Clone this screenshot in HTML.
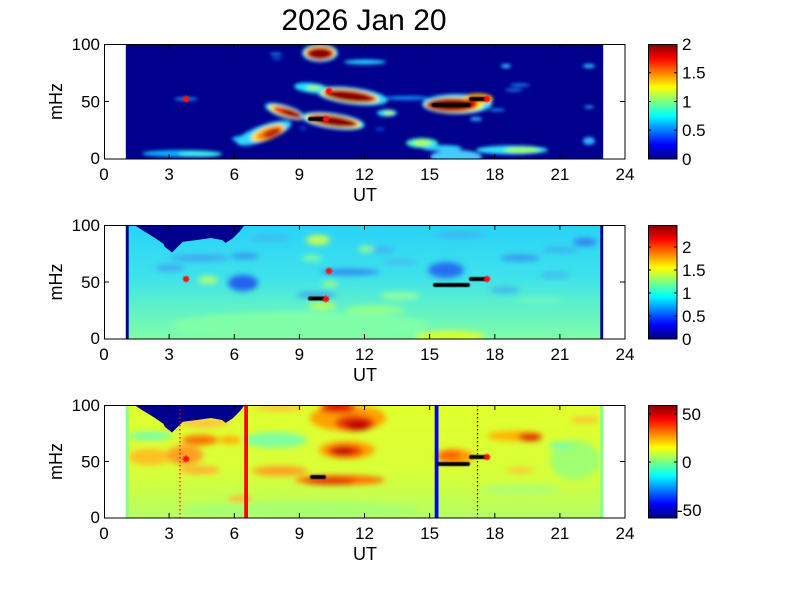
<!DOCTYPE html>
<html><head><meta charset="utf-8"><style>
html,body{margin:0;padding:0;background:#fff;}
svg{display:block;}
text{font-family:"Liberation Sans",Arial,sans-serif;fill:#000;}
</style></head><body>
<svg width="801" height="600" viewBox="0 0 801 600" xmlns="http://www.w3.org/2000/svg">
<defs>
<filter id="b2" x="-20%" y="-20%" width="140%" height="140%"><feGaussianBlur stdDeviation="1.8"/></filter>
<filter id="b3" x="-20%" y="-50%" width="140%" height="200%"><feGaussianBlur stdDeviation="3"/></filter>
<filter id="b1" x="-20%" y="-50%" width="140%" height="200%"><feGaussianBlur stdDeviation="0.6"/></filter>
<clipPath id="c1"><rect x="125.7" y="44" width="477.6" height="115"/></clipPath>
<clipPath id="c2"><rect x="125.7" y="225" width="477.6" height="114"/></clipPath>
<clipPath id="c3"><rect x="125.7" y="405" width="477.6" height="113"/></clipPath>
<linearGradient id="jet" x1="0" y1="1" x2="0" y2="0">
<stop offset="0" stop-color="#000080"/><stop offset="0.125" stop-color="#0000ff"/>
<stop offset="0.375" stop-color="#00ffff"/><stop offset="0.625" stop-color="#ffff00"/>
<stop offset="0.875" stop-color="#ff0000"/><stop offset="1" stop-color="#800000"/>
</linearGradient>
<linearGradient id="g2" x1="0" y1="0" x2="0" y2="1">
<stop offset="0" stop-color="#2ad2f8"/><stop offset="0.45" stop-color="#3ee2ec"/>
<stop offset="0.7" stop-color="#5cf0cc"/><stop offset="1" stop-color="#80fca8"/>
</linearGradient>
<linearGradient id="g3" x1="0" y1="0" x2="0" y2="1">
<stop offset="0" stop-color="#e0ff2c"/><stop offset="0.6" stop-color="#d8ff38"/>
<stop offset="1" stop-color="#b4ff66"/>
</linearGradient>
</defs>

<text x="364" y="30" font-size="30" text-anchor="middle">2026 Jan 20</text>

<!-- ================= PANEL 1 ================= -->
<g clip-path="url(#c1)">
<rect x="125.7" y="44" width="477.6" height="115" fill="#00008c"/>
<g filter="url(#b2)">
<ellipse cx="276" cy="54" rx="6" ry="1.3" fill="#20a0ff"/>
<ellipse cx="277" cy="58.5" rx="5" ry="1" fill="#1070ff"/>
<ellipse cx="365" cy="62" rx="21" ry="2.5" fill="#20d0ff"/>
<ellipse cx="407" cy="98" rx="22" ry="2" fill="#1590ff"/>
<ellipse cx="186" cy="99" rx="12" ry="1.5" fill="#20a0ff"/>
<ellipse cx="506" cy="66" rx="5" ry="2" fill="#30c0ff"/>
<ellipse cx="520" cy="85" rx="10" ry="1.3" fill="#20a0ff"/>
<ellipse cx="514" cy="90" rx="9" ry="1.3" fill="#2090ff"/>
<ellipse cx="497" cy="110" rx="8" ry="1.3" fill="#20a0ff"/>
<ellipse cx="589" cy="66" rx="6" ry="2" fill="#30c0ff"/>
<ellipse cx="589" cy="107" rx="5" ry="1.3" fill="#30c0ff"/>
<ellipse cx="589" cy="141" rx="6" ry="4" fill="#30b0ff"/>
<ellipse cx="476" cy="119" rx="6" ry="2" fill="#30b0ff"/>
<ellipse cx="303" cy="128" rx="4" ry="1" fill="#1070ff"/>
<ellipse cx="380" cy="129" rx="5" ry="1" fill="#1070ff"/>
<ellipse cx="320" cy="53" rx="18" ry="9" fill="#30d8ff"/>
<ellipse cx="320" cy="53" rx="15.5" ry="7.5" fill="#ffe000"/>
<ellipse cx="320" cy="53.5" rx="13.5" ry="6.3" fill="#e00000"/>
<ellipse cx="320" cy="54" rx="11" ry="4.8" fill="#8a0000"/>
<ellipse cx="312" cy="88" rx="18" ry="5" fill="#20e0ff" transform="rotate(6 312 88)"/>
<ellipse cx="315" cy="88" rx="9" ry="2.3" fill="#a0ff60"/>
<ellipse cx="352" cy="96" rx="36" ry="8.5" fill="#30d8ff" transform="rotate(7 352 96)"/>
<ellipse cx="350" cy="96" rx="29" ry="6.8" fill="#ffff30" transform="rotate(7 350 96)"/>
<ellipse cx="350" cy="96" rx="26.5" ry="5.8" fill="#e00000" transform="rotate(7 350 96)"/>
<ellipse cx="349" cy="96.5" rx="23" ry="4.6" fill="#8a0000" transform="rotate(7 349 96.5)"/>
<ellipse cx="457" cy="104" rx="35" ry="10" fill="#30d8ff"/>
<ellipse cx="478" cy="99" rx="15" ry="5.5" fill="#ffd000"/>
<ellipse cx="454" cy="105" rx="29" ry="8" fill="#ffff20"/>
<ellipse cx="452" cy="105" rx="26" ry="7" fill="#e00000"/>
<ellipse cx="450" cy="105" rx="22" ry="5.5" fill="#8a0000"/>
<ellipse cx="478" cy="99" rx="10" ry="3.2" fill="#e02000"/>
<ellipse cx="285" cy="111.5" rx="21" ry="6.3" fill="#30d8ff" transform="rotate(17 285 111.5)"/>
<ellipse cx="286" cy="112" rx="18" ry="5" fill="#ffe020" transform="rotate(17 286 112)"/>
<ellipse cx="288" cy="112.5" rx="15" ry="4" fill="#e02000" transform="rotate(17 288 112.5)"/>
<ellipse cx="292" cy="113.5" rx="9" ry="2.8" fill="#8a0000" transform="rotate(17 292 113.5)"/>
<ellipse cx="333" cy="121" rx="32" ry="8" fill="#30d8ff" transform="rotate(8 333 121)"/>
<ellipse cx="333" cy="121" rx="28" ry="6.5" fill="#ffff20" transform="rotate(8 333 121)"/>
<ellipse cx="333" cy="121" rx="25" ry="5.5" fill="#e00000" transform="rotate(8 333 121)"/>
<ellipse cx="335" cy="121.5" rx="20" ry="4.4" fill="#8a0000" transform="rotate(8 335 121.5)"/>
<ellipse cx="245" cy="139" rx="13" ry="3.5" fill="#20c0ff"/>
<ellipse cx="264" cy="133" rx="29" ry="8" fill="#30d8ff" transform="rotate(-20 264 133)"/>
<ellipse cx="268" cy="133" rx="18" ry="6.5" fill="#ffe020" transform="rotate(-20 268 133)"/>
<ellipse cx="270" cy="133" rx="14" ry="5.3" fill="#ff8000" transform="rotate(-20 270 133)"/>
<ellipse cx="272" cy="133" rx="9" ry="3.8" fill="#c02000" transform="rotate(-20 272 133)"/>
<ellipse cx="387" cy="113" rx="10" ry="3.5" fill="#30e0ff"/>
<ellipse cx="389" cy="113" rx="5" ry="2" fill="#c0ff40"/>
<ellipse cx="422" cy="143" rx="16" ry="5" fill="#40f0d0"/>
<ellipse cx="422" cy="143" rx="9" ry="3" fill="#b0ff50"/>
<ellipse cx="180" cy="153.5" rx="38" ry="3.5" fill="#10b0ff"/>
<ellipse cx="200" cy="154" rx="22" ry="3" fill="#40f0f0"/>
<ellipse cx="456" cy="157" rx="26" ry="7" fill="#48c8ff"/>
<ellipse cx="442" cy="148" rx="20" ry="3" fill="#30d0ff"/>
<ellipse cx="512" cy="150" rx="36" ry="4.5" fill="#30e0ff"/>
<ellipse cx="522" cy="150" rx="18" ry="3" fill="#a0ff60"/>
</g>
<g fill="#000" filter="url(#b1)">
<rect x="308" y="117" width="18" height="4" rx="2"/>
<rect x="432" y="103" width="39" height="4" rx="2"/>
<rect x="469" y="97" width="18" height="4" rx="2"/>
</g>
<g stroke="#ff1010" stroke-width="1.4">
<path d="M182.5 99h7M186 95.5v7M183.5 96.5l5 5M183.5 101.5l5-5"/>
<path d="M325.5 91h7M329 87.5v7M326.5 88.5l5 5M326.5 93.5l5-5"/>
<path d="M322.5 119h7M326 115.5v7M323.5 116.5l5 5M323.5 121.5l5-5"/>
<path d="M483.5 99h7M487 95.5v7M484.5 96.5l5 5M484.5 101.5l5-5"/>
</g>
</g>

<!-- ================= PANEL 2 ================= -->
<g clip-path="url(#c2)">
<rect x="125.7" y="225" width="477.6" height="114" fill="url(#g2)"/>
<g filter="url(#b3)">
<ellipse cx="300" cy="326" rx="130" ry="14" fill="#80ffa8"/>
<ellipse cx="243" cy="283" rx="15" ry="8" fill="#2060f0"/>
<ellipse cx="446" cy="270" rx="18" ry="8" fill="#2870f0"/>
<ellipse cx="350" cy="272" rx="30" ry="3" fill="#3080f0"/>
<ellipse cx="200" cy="258" rx="30" ry="3" fill="#40a0f0"/>
<ellipse cx="245" cy="256" rx="14" ry="3" fill="#3a90f0"/>
<ellipse cx="520" cy="258" rx="20" ry="3" fill="#3a90f0"/>
<ellipse cx="560" cy="250" rx="18" ry="2.5" fill="#40a8f0"/>
<ellipse cx="585" cy="242" rx="12" ry="4" fill="#3080f0"/>
<ellipse cx="316" cy="295" rx="20" ry="3" fill="#40a0f0"/>
<ellipse cx="505" cy="290" rx="15" ry="3" fill="#40b0f0"/>
<ellipse cx="170" cy="268" rx="15" ry="3" fill="#40a0f0"/>
<ellipse cx="380" cy="250" rx="15" ry="3" fill="#40b0f0"/>
<ellipse cx="460" cy="235" rx="25" ry="3" fill="#40b0f0"/>
<ellipse cx="555" cy="275" rx="15" ry="3" fill="#40b8f0"/>
<ellipse cx="270" cy="238" rx="20" ry="3" fill="#40b8f0"/>
<ellipse cx="400" cy="262" rx="18" ry="2.5" fill="#48b8f0"/>
<ellipse cx="318" cy="240" rx="12" ry="5" fill="#c8ff50"/>
<ellipse cx="366" cy="249" rx="8" ry="3" fill="#a0ff80"/>
<ellipse cx="312" cy="258" rx="10" ry="3" fill="#80ffa0"/>
<ellipse cx="322" cy="306" rx="14" ry="3.5" fill="#c0ff50"/>
<ellipse cx="330" cy="284" rx="8" ry="3" fill="#a0ff80"/>
<ellipse cx="450" cy="337" rx="35" ry="6" fill="#d8ff30"/>
<ellipse cx="375" cy="310" rx="30" ry="5" fill="#90ff90"/>
<ellipse cx="208" cy="280" rx="10" ry="4" fill="#b0ff70"/>
<ellipse cx="400" cy="296" rx="20" ry="4" fill="#90ffa0"/>
<ellipse cx="540" cy="300" rx="25" ry="3" fill="#70f8c0"/>
</g>
<path d="M136.4,224 L136.4,226.4 L143.6,231 L152.5,236.4 L163.2,243.6 L165,247 L172,252.5 L177.5,247 L182.9,241.8 L197,240 L211,238 L222,240 L225.7,242.9 L232.9,238.2 L240,231 L243.6,226.4 L244,224 Z" fill="#00008c"/>
<rect x="125.7" y="225" width="3" height="114" fill="#00008c"/>
<rect x="600.3" y="225" width="3" height="114" fill="#00008c"/>
<g fill="#000" filter="url(#b1)">
<rect x="308" y="296.5" width="18" height="4" rx="2"/>
<rect x="433" y="283" width="37" height="4" rx="2"/>
<rect x="469" y="277" width="18" height="4" rx="2"/>
</g>
<g stroke="#ff1010" stroke-width="1.4">
<path d="M182.5 279h7M186 275.5v7M183.5 276.5l5 5M183.5 281.5l5-5"/>
<path d="M325.5 271h7M329 267.5v7M326.5 268.5l5 5M326.5 273.5l5-5"/>
<path d="M322.5 299h7M326 295.5v7M323.5 296.5l5 5M323.5 301.5l5-5"/>
<path d="M483.5 279h7M487 275.5v7M484.5 276.5l5 5M484.5 281.5l5-5"/>
</g>
</g>

<!-- ================= PANEL 3 ================= -->
<g clip-path="url(#c3)">
<rect x="125.7" y="405" width="477.6" height="113" fill="url(#g3)"/>
<g filter="url(#b3)">
<ellipse cx="275" cy="440" rx="32" ry="8" fill="#80ffa0"/>
<ellipse cx="150" cy="436" rx="22" ry="4" fill="#70ffb0"/>
<ellipse cx="575" cy="460" rx="25" ry="20" fill="#a0ff70"/>
<ellipse cx="560" cy="445" rx="12" ry="3" fill="#70ffb0"/>
<ellipse cx="300" cy="510" rx="120" ry="8" fill="#a8ff70"/>
<ellipse cx="520" cy="490" rx="40" ry="5" fill="#b0ff70"/>
<ellipse cx="348" cy="418" rx="38" ry="13" fill="#ffa000"/>
<ellipse cx="338" cy="408" rx="18" ry="5" fill="#e00000"/>
<ellipse cx="355" cy="423" rx="20" ry="8" fill="#e83000"/>
<ellipse cx="358" cy="425" rx="12" ry="5" fill="#c00000"/>
<ellipse cx="280" cy="408" rx="25" ry="3" fill="#ffc040"/>
<ellipse cx="347" cy="450" rx="28" ry="9" fill="#ffa000"/>
<ellipse cx="345" cy="451" rx="18" ry="6" fill="#e83000"/>
<ellipse cx="343" cy="451" rx="10" ry="4" fill="#c00000"/>
<ellipse cx="280" cy="471" rx="28" ry="5" fill="#ffa020"/>
<ellipse cx="340" cy="480" rx="45" ry="5" fill="#ff7000"/>
<ellipse cx="330" cy="481" rx="25" ry="3.5" fill="#e03000"/>
<ellipse cx="515" cy="436" rx="28" ry="5" fill="#ffb000"/>
<ellipse cx="530" cy="437" rx="12" ry="4" fill="#e02000"/>
<ellipse cx="455" cy="457" rx="20" ry="8" fill="#ffa000"/>
<ellipse cx="450" cy="455" rx="12" ry="5" fill="#ff6000"/>
<ellipse cx="585" cy="420" rx="15" ry="3" fill="#ffc030"/>
<ellipse cx="520" cy="470" rx="14" ry="2.5" fill="#ffc030"/>
<ellipse cx="150" cy="457" rx="22" ry="8" fill="#ffc020"/>
<ellipse cx="185" cy="455" rx="18" ry="10" fill="#ffa020"/>
<ellipse cx="200" cy="440" rx="18" ry="5" fill="#ff7000"/>
<ellipse cx="230" cy="440" rx="12" ry="4" fill="#ffb000"/>
<ellipse cx="200" cy="470" rx="20" ry="4" fill="#ffb030"/>
<ellipse cx="205" cy="423" rx="25" ry="4" fill="#ffc040"/>
<ellipse cx="240" cy="499" rx="12" ry="3" fill="#ffb030"/>
</g>
<path d="M136.4,404 L136.4,406.4 L143.6,411 L152.5,416.4 L163.2,423.6 L165,427 L172,432.5 L177.5,427 L182.9,421.8 L197,420 L211,418 L222,420 L225.7,422.9 L232.9,418.2 L240,411 L243.6,406.4 L244,404 Z" fill="#00008c"/>
<rect x="125.7" y="405" width="3" height="113" fill="#88ff88"/>
<rect x="600.3" y="405" width="3" height="113" fill="#88ff88"/>
<rect x="244.2" y="405" width="3.8" height="113" fill="#ff0000"/>
<rect x="434.7" y="405" width="3.8" height="113" fill="#0000ff"/>
<line x1="180" y1="405" x2="180" y2="518" stroke="#ff0000" stroke-width="1.2" stroke-dasharray="1.5 2.5"/>
<line x1="477.5" y1="405" x2="477.5" y2="518" stroke="#000" stroke-width="1.2" stroke-dasharray="1.5 2.5"/>
<g fill="#000" filter="url(#b1)">
<rect x="310" y="475" width="16" height="4" rx="2"/>
<rect x="437" y="462" width="33" height="4" rx="2"/>
<rect x="469" y="455" width="18" height="4" rx="2"/>
</g>
<g stroke="#ff1010" stroke-width="1.4">
<path d="M182.5 459h7M186 455.5v7M183.5 456.5l5 5M183.5 461.5l5-5"/>
<path d="M483.5 457h7M487 453.5v7M484.5 454.5l5 5M484.5 459.5l5-5"/>
</g>
</g>

<!-- ================= AXES ================= -->
<g fill="none" stroke="#000" stroke-width="1">
<rect x="104.5" y="44.5" width="520.5" height="114.5"/>
<rect x="104.5" y="225.5" width="520.5" height="113.5"/>
<rect x="104.5" y="405.5" width="520.5" height="112.5"/>
<path d="M169.1 159v-5M234.3 159v-5M299.4 159v-5M364.5 159v-5M429.6 159v-5M494.8 159v-5M559.9 159v-5
M169.1 44v5M234.3 44v5M299.4 44v5M364.5 44v5M429.6 44v5M494.8 44v5M559.9 44v5
M104 101.5h5M625 101.5h-5"/>
<path d="M169.1 339v-5M234.3 339v-5M299.4 339v-5M364.5 339v-5M429.6 339v-5M494.8 339v-5M559.9 339v-5
M169.1 225v5M234.3 225v5M299.4 225v5M364.5 225v5M429.6 225v5M494.8 225v5M559.9 225v5
M104 282h5M625 282h-5"/>
<path d="M169.1 518v-5M234.3 518v-5M299.4 518v-5M364.5 518v-5M429.6 518v-5M494.8 518v-5M559.9 518v-5
M169.1 405v5M234.3 405v5M299.4 405v5M364.5 405v5M429.6 405v5M494.8 405v5M559.9 405v5
M104 461.5h5M625 461.5h-5"/>
</g>

<rect x="648" y="44" width="29" height="115" fill="url(#jet)"/>
<rect x="648" y="225" width="29" height="114" fill="url(#jet)"/>
<rect x="648" y="405" width="29" height="113" fill="url(#jet)"/>
<g fill="none" stroke="#000" stroke-width="1">
<rect x="648.5" y="44.5" width="28.5" height="114.5"/>
<rect x="648.5" y="225.5" width="28.5" height="113.5"/>
<rect x="648.5" y="405.5" width="28.5" height="112.5"/>
<path d="M648 72.75h3M648 101.5h3M648 130.25h3M677 72.75h-3M677 101.5h-3M677 130.25h-3"/>
<path d="M648 247h3M648 270h3M648 293h3M648 316h3M677 247h-3M677 270h-3M677 293h-3M677 316h-3"/>
<path d="M648 414h3M648 462h3M648 510h3M677 414h-3M677 462h-3M677 510h-3"/>
</g>

<g font-size="17">
<g text-anchor="end">
<text x="100" y="50">100</text><text x="100" y="107.5">50</text><text x="100" y="164">0</text>
<text x="100" y="231">100</text><text x="100" y="288">50</text><text x="100" y="344">0</text>
<text x="100" y="411">100</text><text x="100" y="467.5">50</text><text x="100" y="523">0</text>
</g>
<g text-anchor="middle">
<text x="104" y="180">0</text><text x="169.1" y="180">3</text><text x="234.3" y="180">6</text><text x="299.4" y="180">9</text><text x="364.5" y="180">12</text><text x="429.6" y="180">15</text><text x="494.8" y="180">18</text><text x="559.9" y="180">21</text><text x="625" y="180">24</text>
<text x="104" y="360">0</text><text x="169.1" y="360">3</text><text x="234.3" y="360">6</text><text x="299.4" y="360">9</text><text x="364.5" y="360">12</text><text x="429.6" y="360">15</text><text x="494.8" y="360">18</text><text x="559.9" y="360">21</text><text x="625" y="360">24</text>
<text x="104" y="539">0</text><text x="169.1" y="539">3</text><text x="234.3" y="539">6</text><text x="299.4" y="539">9</text><text x="364.5" y="539">12</text><text x="429.6" y="539">15</text><text x="494.8" y="539">18</text><text x="559.9" y="539">21</text><text x="625" y="539">24</text>
</g>
<g text-anchor="start">
<text x="682" y="50">2</text><text x="682" y="78.5">1.5</text><text x="682" y="107.5">1</text><text x="682" y="136">0.5</text><text x="682" y="165">0</text>
<text x="682" y="253">2</text><text x="682" y="276">1.5</text><text x="682" y="299">1</text><text x="682" y="322">0.5</text><text x="682" y="345">0</text>
<text x="682" y="420">50</text><text x="682" y="468">0</text><text x="677" y="516">-50</text>
</g>
</g>

<g font-size="18" text-anchor="middle">
<text x="365" y="201">UT</text>
<text x="365" y="381">UT</text>
<text x="365" y="560">UT</text>
<text transform="translate(62,101.5) rotate(-90)">mHz</text>
<text transform="translate(62,282) rotate(-90)">mHz</text>
<text transform="translate(62,461.5) rotate(-90)">mHz</text>
</g>
</svg>
</body></html>
